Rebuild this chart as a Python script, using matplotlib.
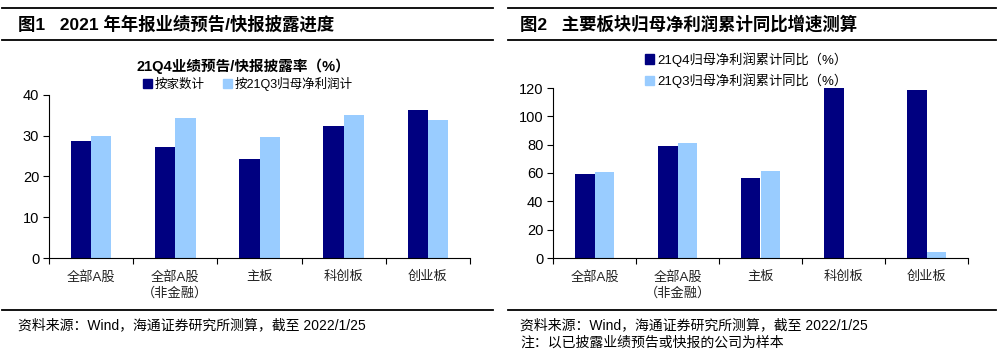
import matplotlib

matplotlib.use("Agg")
import matplotlib.pyplot as plt
import numpy as np
from matplotlib.lines import Line2D
from matplotlib.patches import Patch

plt.rcParams["font.family"] = ["Liberation Sans", "Noto Sans CJK SC"]

# ---- data -------------------------------------------------------------
categories = ["全部A股", "全部A股\n（非金融）", "主板", "科创板", "创业板"]

# fig 1: 21Q4 disclosure rate (%)
by_count = [28.7, 27.3, 24.3, 32.3, 36.3]
by_profit = [30.0, 34.4, 29.7, 35.2, 33.9]

# fig 2: cumulative net profit YoY (%)
q4_yoy = [59.5, 78.8, 56.7, 135.0, 118.8]
q3_yoy = [60.7, 81.2, 61.6, 0.0, 4.0]

DARK = "#000080"
LIGHT = "#99ccff"
W, H = 1001, 358


def ax_rect(x0, x1, y_top, y_bot):
    return [x0 / W, 1 - y_bot / H, (x1 - x0) / W, (y_bot - y_top) / H]


def hline(fig, x0, x1, y):
    fig.add_artist(Line2D([x0 / W, x1 / W], [1 - y / H, 1 - y / H], color="black", lw=1.3))


def bars(ax, s1, s2, ymax, step):
    n = len(categories)
    x = np.arange(n)
    bw = 0.24
    ax.bar(x - bw / 2, s1, width=bw, color=DARK, zorder=2)
    ax.bar(x + bw / 2, s2, width=bw, color=LIGHT, zorder=2)
    ax.set_xlim(-0.5, n - 0.5)
    ax.set_ylim(0, ymax)
    ax.set_yticks(np.arange(0, ymax + 1, step))
    ax.set_xticks(np.arange(n + 1) - 0.5)
    ax.set_xticklabels([])
    ax.set_xticks(x, minor=True)
    ax.set_xticklabels(categories, minor=True, fontsize=9.5, linespacing=1.4, color="#222222")
    ax.tick_params(axis="x", which="major", length=4, width=0.8)
    ax.tick_params(axis="x", which="minor", length=0, pad=9)
    ax.tick_params(axis="y", length=4, width=0.8, labelsize=10.5, pad=3)
    ax.spines[["top", "right"]].set_visible(False)
    for s in ("left", "bottom"):
        ax.spines[s].set_linewidth(0.8)


fig = plt.figure(figsize=(W / 100, H / 100), dpi=100, facecolor="white")

# ---- panel 1 ----------------------------------------------------------
hline(fig, 2, 493, 8)
hline(fig, 2, 493, 40)
hline(fig, 2, 493, 310)
fig.text(18 / W, 1 - 24 / H, "图1   2021 年年报业绩预告/快报披露进度", fontsize=12.5,
         fontweight="bold", va="center", ha="left")
ax1 = fig.add_axes(ax_rect(49, 470, 95, 258))
bars(ax1, by_count, by_profit, 40, 10)
fig.text(243 / W, 1 - 66 / H, "21Q4业绩预告/快报披露率（%）", fontsize=10.5,
         fontweight="bold", ha="center", va="center")
fig.legend(handles=[Patch(color=DARK, label="按家数计"), Patch(color=LIGHT, label="按21Q3归母净利润计")],
           loc="center", bbox_to_anchor=(248 / W, 1 - 84 / H), ncol=2, frameon=False,
           fontsize=9, handlelength=0.7, handleheight=0.7, handletextpad=0.2, columnspacing=1.5)
fig.text(18 / W, 1 - 325 / H, "资料来源：Wind，海通证券研究所测算，截至 2022/1/25", fontsize=10,
         va="center", ha="left")

# ---- panel 2 ----------------------------------------------------------
hline(fig, 508, 996, 8)
hline(fig, 508, 996, 40)
hline(fig, 508, 996, 310)
fig.text(520 / W, 1 - 24 / H, "图2   主要板块归母净利润累计同比增速测算", fontsize=12.5,
         fontweight="bold", va="center", ha="left")
ax2 = fig.add_axes(ax_rect(553, 968, 88, 258))
bars(ax2, q4_yoy, q3_yoy, 120, 20)
fig.legend(handles=[Patch(color=DARK, label="21Q4归母净利润累计同比（%）"),
                    Patch(color=LIGHT, label="21Q3归母净利润累计同比（%）")],
           loc="center", bbox_to_anchor=(746 / W, 1 - 70 / H), ncol=1, frameon=False,
           fontsize=9.5, handlelength=0.7, handleheight=0.7, handletextpad=0.2, labelspacing=0.5)
fig.text(520 / W, 1 - 325 / H, "资料来源：Wind，海通证券研究所测算，截至 2022/1/25", fontsize=10,
         va="center", ha="left")
fig.text(520 / W, 1 - 343 / H, "注：以已披露业绩预告或快报的公司为样本", fontsize=10,
         va="center", ha="left")

fig.savefig("out.png", dpi=100, facecolor="white")
